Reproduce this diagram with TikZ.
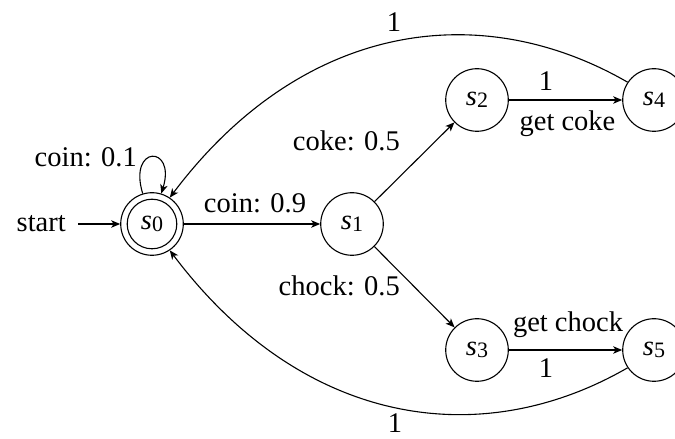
\documentclass[tikz,border=0pt]{standalone}
\usepackage{fontspec}
\setmainfont{Liberation Serif}
\usetikzlibrary{arrows.meta}
\newcommand\stname[1]{\textit{s}\raisebox{-2.5pt}{\fontsize{22}{22}\selectfont #1}}
\begin{document}
\begin{tikzpicture}[x=1pt,y=1pt,
  every node/.style={font=\fontsize{28.5}{34}\selectfont},
  stt/.style={circle,draw,line width=1.1pt,minimum size=62.6pt,inner sep=0pt},
  tr/.style={line width=1.1pt,-{Stealth[length=9pt,width=7.5pt,inset=2.5pt]}},
  lab/.style={inner sep=0pt}]
\useasboundingbox (0,0) rectangle (675,439);
% states
\node[stt] (s0) at (152,215) {\stname0};
\draw[line width=1.1pt] (s0.center) circle (24.8pt);
\node[stt] (s1) at (352,215) {\stname1};
\node[stt] (s2) at (477,339) {\stname2};
\node[stt] (s3) at (477,89) {\stname3};
\node[stt] (s4) at (654,339) {\stname4};
\node[stt] (s5) at (654,89) {\stname5};
% start
\node[lab,anchor=east] (start) at (66,215) {start};
\draw[tr] ([xshift=12pt]start.east) -- (s0);
% loop
\draw[tr] (s0.107) .. controls +(107:51) and +(73:51) .. (s0.73);
\node[lab,anchor=base east] (l01) at (137,272) {coin: 0.1};
% transitions
\draw[tr] (s0) -- (s1);
\node[lab,anchor=base] (l09) at (255,226) {coin: 0.9};
\draw[tr] (s1) -- (s2);
\node[lab,anchor=base east] (lcoke) at (400,288) {coke: 0.5};
\draw[tr] (s1) -- (s3);
\node[lab,anchor=base east] (lchock) at (400,143) {chock: 0.5};
\draw[tr] (s2) -- (s4);
\node[lab,anchor=base] (l24) at (546,348) {1};
\node[lab,anchor=base] (lgc) at (567.5,308) {get coke};
\draw[tr] (s3) -- (s5);
\node[lab,anchor=base] (lgch) at (568,107) {get chock};
\node[lab,anchor=base] (l35) at (546,61) {1};
% return arcs
\draw[tr] (s4.146) .. controls +(150:170) and +(53:220) .. (s0.56);
\node[lab,anchor=base] (ltop) at (394,407) {1};
\draw[tr] (s5.214) .. controls +(210:170) and +(-53:220) .. (s0.-56);
\node[lab,anchor=base] (lbot) at (395,6) {1};
\end{tikzpicture}
\end{document}
